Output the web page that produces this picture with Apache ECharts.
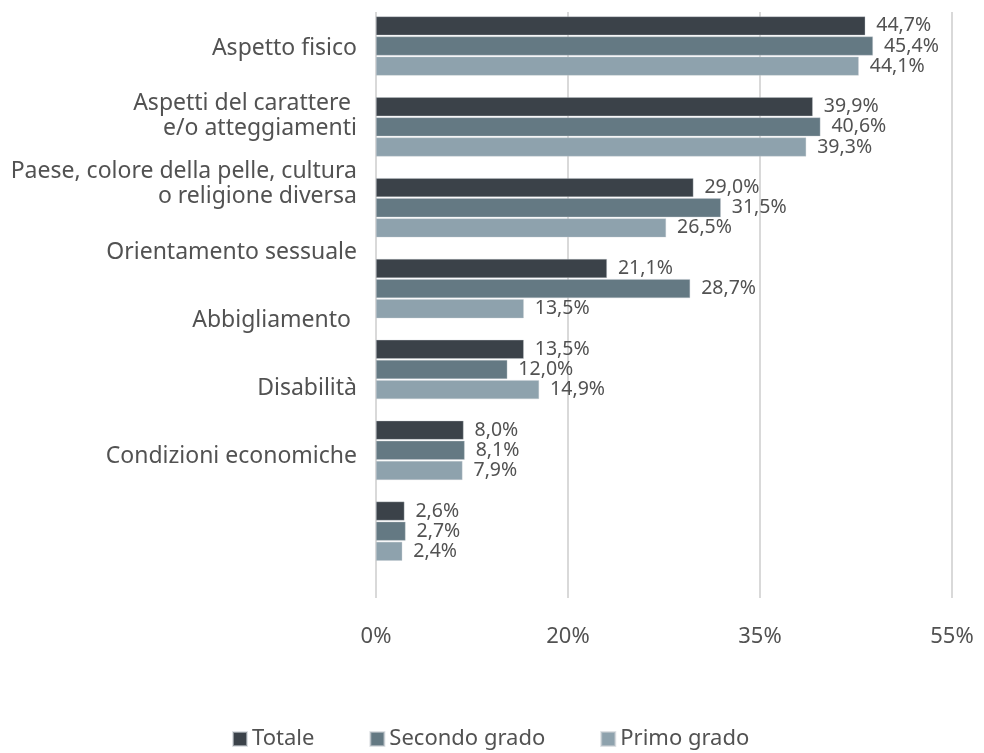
<!DOCTYPE html>
<html>
<head>
<meta charset="utf-8">
<script src="https://cdn.jsdelivr.net/npm/echarts@6/dist/echarts.min.js"></script>
<style>
  html, body { margin: 0; padding: 0; background: #ffffff; }
  #chart { width: 984px; height: 753px; }
</style>
</head>
<body>
<div id="chart"></div>
<script>
const categories = [
  'Aspetto fisico',
  'Aspetti del carattere \ne/o atteggiamenti',
  'Paese, colore della pelle, cultura\no religione diversa',
  'Orientamento sessuale',
  'Abbigliamento ',
  'Disabilità',
  'Condizioni economiche'
];
const seriesNames = ['Totale', 'Secondo grado', 'Primo grado'];
const totale = [44.7, 39.9, 29.0, 21.1, 13.5, 8.0, 2.6];
const secondoGrado = [45.4, 40.6, 31.5, 28.7, 12.0, 8.1, 2.7];
const primoGrado = [44.1, 39.3, 26.5, 13.5, 14.9, 7.9, 2.4];
const tickLabels = ['0%', '20%', '35%', '55%'];

const colors = ['#3b4249', '#647983', '#8ea2ad'];
const textColor = '#525252';
const fontFamily = '"Noto Sans", "Open Sans", sans-serif';
const axisInterval = 17.54;
const axisMax = axisInterval * 3;

const chart = echarts.init(document.getElementById('chart'), null, { renderer: 'canvas' });

function fmt(v) {
  return v.toFixed(1).replace('.', ',') + '%';
}

const barSeries = [totale, secondoGrado, primoGrado].map((d, i) => ({
  name: seriesNames[i],
  type: 'bar',
  xAxisIndex: 0,
  yAxisIndex: 0,
  data: d,
  barWidth: 19,
  barGap: '6%',
  itemStyle: { color: colors[i], borderColor: 'rgba(200,205,210,0.6)', borderWidth: 0.6 },
  label: {
    show: true,
    position: 'right',
    distance: 11,
    color: textColor,
    fontFamily: fontFamily,
    fontSize: 19.5,
    formatter: p => fmt(p.value)
  },
  z: 3
}));

const option = {
  backgroundColor: '#ffffff',
  animation: false,
  textStyle: { fontFamily: fontFamily, color: textColor },
  legend: {
    data: seriesNames,
    left: 232,
    top: 728,
    padding: 0,
    icon: 'rect',
    itemWidth: 14,
    itemHeight: 14,
    itemGap: 55,
    selectedMode: false,
    textStyle: { color: textColor, fontSize: 22, fontFamily: fontFamily }
  },
  grid: [
    { left: 376, width: 576, top: 5.6, height: 566 },
    { left: 376, width: 576, top: 12, height: 586 },
    { left: 376, width: 576, top: 14, height: 477 }
  ],
  xAxis: [
    { type: 'value', gridIndex: 0, min: 0, max: axisMax, interval: axisInterval, show: false },
    {
      type: 'value', gridIndex: 1, min: 0, max: axisMax, interval: axisInterval,
      axisLine: { show: false }, axisTick: { show: false },
      splitLine: { show: true, lineStyle: { color: '#d9d9d9', width: 2 } },
      axisLabel: {
        margin: 28, color: textColor, fontSize: 22, fontFamily: fontFamily,
        formatter: v => tickLabels[Math.round(v / axisInterval)] || ''
      }
    },
    { type: 'value', gridIndex: 2, min: 0, max: axisMax, show: false }
  ],
  yAxis: [
    { type: 'category', gridIndex: 0, data: categories, inverse: true, show: false },
    { type: 'category', gridIndex: 1, data: categories, inverse: true, show: false },
    {
      type: 'category', gridIndex: 2, inverse: true,
      data: categories.map((c, i) => i === 2 ? { value: c, textStyle: { padding: [12, 0, 0, 0] } } : c),
      axisLine: { show: false }, axisTick: { show: false }, splitLine: { show: false },
      axisLabel: {
        margin: 19, color: textColor, fontSize: 23, lineHeight: 25, fontFamily: fontFamily,
        interval: 0, align: 'right'
      }
    }
  ],
  series: barSeries
};

chart.setOption(option);
</script>
</body>
</html>
